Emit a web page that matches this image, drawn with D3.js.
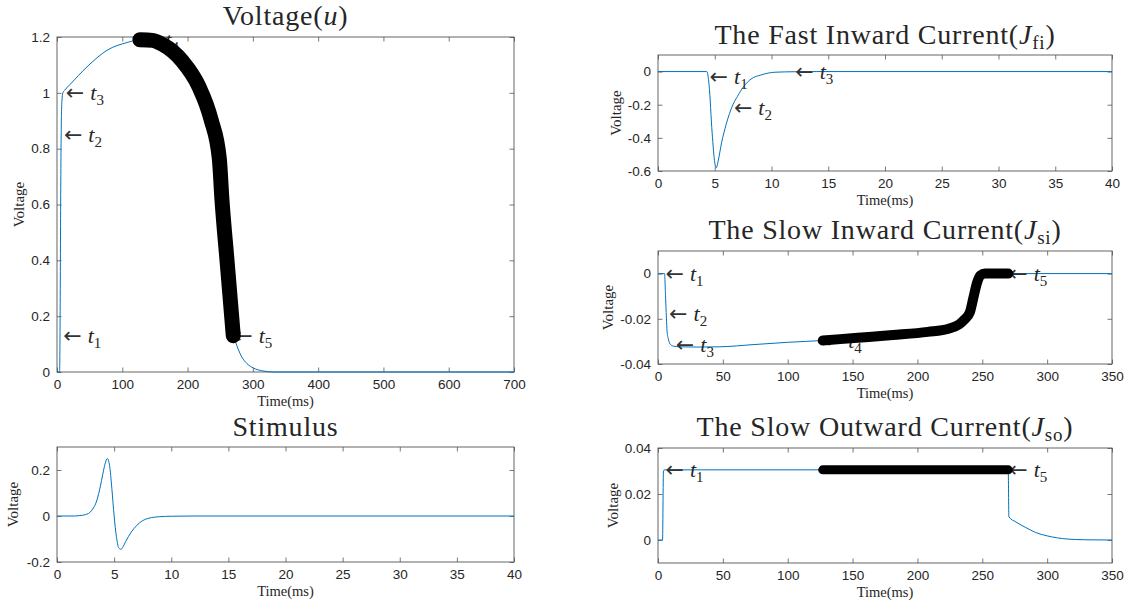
<!DOCTYPE html>
<html>
<head>
<meta charset="utf-8">
<script src="https://cdn.jsdelivr.net/npm/d3@7"></script>
<style>
  body { margin: 0; background: #fff; }
  svg text { fill: #262626; }
</style>
</head>
<body>
<div id="chart"></div>
<script>
// ---- data ----
// membrane voltage u (ms, value)
var uTime = [0, 4, 4.5, 5, 5.5, 6, 6.5, 7, 8, 9, 12, 20, 46, 77, 107, 127, 146, 162, 191.5, 217, 236, 248.6, 252.7, 260.4, 270, 273, 283, 291, 301, 315, 332, 700];
var uVolt = [0, 0, 0.1, 0.3, 0.55, 0.75, 0.87, 0.94, 0.985, 1.0, 1.01, 1.03, 1.093, 1.153, 1.18, 1.19, 1.188, 1.173, 1.115, 1.024, 0.904, 0.765, 0.616, 0.40, 0.13, 0.11, 0.054, 0.03, 0.014, 0.004, 0, 0];

// stimulus
var stimTime = [0, 1.5, 2, 2.5, 3, 3.5, 3.8, 4, 4.2, 4.4, 4.6, 4.8, 5.0, 5.2, 5.4, 5.6, 5.8, 6.0, 6.5, 7, 7.5, 8, 9, 10, 12, 40];
var stimVal = [0, 0, 0.002, 0.006, 0.022, 0.07, 0.13, 0.18, 0.225, 0.25, 0.22, 0.12, 0.0, -0.09, -0.138, -0.145, -0.132, -0.112, -0.07, -0.04, -0.02, -0.01, -0.003, -0.001, 0, 0];

// fast inward current J_fi
var fiTime = [0, 4.3, 4.5, 4.77, 5.0, 5.14, 5.3, 5.6, 6.0, 6.3, 6.6, 7.0, 7.55, 8.2, 9.1, 10.3, 12, 14, 40];
var fiVal = [0, 0, -0.08, -0.37, -0.55, -0.58, -0.54, -0.43, -0.32, -0.253, -0.2, -0.15, -0.09, -0.045, -0.02, -0.004, -0.001, 0, 0];

// slow inward current J_si
var siTime = [0, 5, 5.9, 7, 8, 9.7, 12, 17, 30, 47, 74, 100, 127, 154, 181, 208, 224, 232, 236, 240.5, 243, 246, 248.6, 252, 270, 350];
var siVal = [0, 0, -0.0112, -0.0256, -0.029, -0.0314, -0.0321, -0.0324, -0.0325, -0.0324, -0.0314, -0.0304, -0.0296, -0.0284, -0.0272, -0.0258, -0.0244, -0.0225, -0.0205, -0.017, -0.011, -0.004, -0.0008, 0, 0, 0];

// slow outward current J_so
var soTime = [0, 3.5, 4.2, 5, 127, 270, 270.5, 276, 283.6, 291, 300, 316, 329, 350];
var soVal = [0, 0, 0.03, 0.0305, 0.0305, 0.0305, 0.0101, 0.0078, 0.0054, 0.0033, 0.0018, 0.0004, 0.0001, 0];

// highlighted interval (t4 .. t5)
var markStart = 127, markEnd = 270;

// tick values
var uXTicks = [0, 100, 200, 300, 400, 500, 600, 700];
var uYTicks = [0, 0.2, 0.4, 0.6, 0.8, 1, 1.2];
var shortXTicks = [0, 5, 10, 15, 20, 25, 30, 35, 40];
var longXTicks = [0, 50, 100, 150, 200, 250, 300, 350];
var stimYTicks = [-0.2, 0, 0.2];
var fiYTicks = [-0.6, -0.4, -0.2, 0];
var siYTicks = [-0.04, -0.02, 0];
var soYTicks = [0, 0.02, 0.04];

// annotations: [subscript, time, value]
var uNotes = [[1, 8, 0.13], [2, 9, 0.85], [3, 12, 1.0], [4, 127, 1.19], [5, 270, 0.13]];
var fiNotes = [[1, 4.46, -0.03], [2, 6.6, -0.22], [3, 12, 0]];
var siNotes = [[1, 5, 0], [2, 7.8, -0.0177], [3, 13, -0.0314], [4, 127, -0.0298], [5, 270, 0]];
var soNotes = [[1, 5, 0.0305], [5, 270, 0.0305]];

var panels = [
  {title: [{t: "Voltage("}, {t: "u", it: true}, {t: ")"}], box: [57, 37, 514, 372], titleY: 25, yLabX: 19,
   xDom: [0, 700], xTicks: uXTicks, yDom: [0, 1.2], yTicks: uYTicks, time: uTime, vals: uVolt, notes: uNotes, mark: 15},
  {title: [{t: "Stimulus"}], box: [57, 447, 514, 562], titleY: 436, yLabX: 13,
   xDom: [0, 40], xTicks: shortXTicks, yDom: [-0.2, 0.3], yTicks: stimYTicks, time: stimTime, vals: stimVal, notes: [], mark: 0},
  {title: [{t: "The Fast Inward Current("}, {t: "J", it: true}, {t: "fi", sub: true}, {t: ")"}], box: [658, 55, 1112, 171], titleY: 44, yLabX: 616,
   xDom: [0, 40], xTicks: shortXTicks, yDom: [-0.6, 0.1], yTicks: fiYTicks, time: fiTime, vals: fiVal, notes: fiNotes, mark: 0},
  {title: [{t: "The Slow Inward Current("}, {t: "J", it: true}, {t: "si", sub: true}, {t: ")"}], box: [658, 251, 1112, 364], titleY: 239, yLabX: 608,
   xDom: [0, 350], xTicks: longXTicks, yDom: [-0.04, 0.01], yTicks: siYTicks, time: siTime, vals: siVal, notes: siNotes, mark: 10},
  {title: [{t: "The Slow Outward Current("}, {t: "J", it: true}, {t: "so", sub: true}, {t: ")"}], box: [658, 448, 1112, 563], titleY: 436, yLabX: 613,
   xDom: [0, 350], xTicks: longXTicks, yDom: [-0.01, 0.04], yTicks: soYTicks, time: soTime, vals: soVal, notes: soNotes, mark: 9}
];

var svg = d3.select("#chart").append("svg")
  .attr("width", 1131)
  .attr("height", 609);

var serif = "'Liberation Serif', 'Times New Roman', serif";
var sans = "'Liberation Sans', Arial, sans-serif";
var lineColor = "#0072BD";
var axisColor = "#555";

panels.forEach(function(p) {
  var x0 = p.box[0], y0 = p.box[1], w = p.box[2] - p.box[0], h = p.box[3] - p.box[1];
  var x = d3.scaleLinear().domain(p.xDom).range([0, w]);
  var y = d3.scaleLinear().domain(p.yDom).range([h, 0]);
  var tl = 4.5;

  var g = svg.append("g").attr("transform", "translate(" + x0 + "," + y0 + ")");

  // axes, ticks pointing inward on all four sides
  var fmt = function(d) { return String(d); };
  var bottom = g.append("g").attr("transform", "translate(0," + h + ")")
    .call(d3.axisBottom(x).tickValues(p.xTicks).tickSize(-tl).tickSizeOuter(0).tickPadding(7).tickFormat(fmt));
  var top = g.append("g")
    .call(d3.axisTop(x).tickValues(p.xTicks).tickSize(-tl).tickSizeOuter(0).tickFormat(""));
  var left = g.append("g")
    .call(d3.axisLeft(y).tickValues(p.yTicks).tickSize(-tl).tickSizeOuter(0).tickPadding(7).tickFormat(fmt));
  var right = g.append("g").attr("transform", "translate(" + w + ",0)")
    .call(d3.axisRight(y).tickValues(p.yTicks).tickSize(-tl).tickSizeOuter(0).tickFormat(""));

  [bottom, top, left, right].forEach(function(a) {
    a.select(".domain").remove();
    a.selectAll(".tick line").attr("stroke", axisColor).attr("stroke-width", 0.8);
    a.selectAll(".tick text").attr("font-family", sans).attr("font-size", 13.5).attr("fill", "#262626");
  });

  g.append("rect")
    .attr("width", w).attr("height", h)
    .attr("fill", "none").attr("stroke", axisColor).attr("stroke-width", 0.9);

  // series
  var pts = p.time.map(function(t, i) { return [t, p.vals[i]]; });
  var line = d3.line()
    .x(function(d) { return x(d[0]); })
    .y(function(d) { return y(d[1]); })
    .curve(d3.curveMonotoneX);

  g.append("path")
    .datum(pts)
    .attr("fill", "none")
    .attr("stroke", lineColor)
    .attr("stroke-width", 1)
    .attr("d", line);

  // annotations (drawn under the highlighted markers)
  p.notes.forEach(function(n) {
    var tx = g.append("text")
      .attr("x", x(n[1]) + 1)
      .attr("y", y(n[2]) + 7)
      .attr("font-size", 22)
      .attr("fill", "#222");
    tx.append("tspan").attr("font-family", "'DejaVu Sans', sans-serif").attr("font-size", 22).attr("fill", "#333").text("\u2190");
    tx.append("tspan").attr("font-family", serif).attr("font-style", "italic").attr("dx", 6).text("t");
    tx.append("tspan").attr("font-family", serif).attr("font-size", 15).attr("dy", 5).text(n[0]);
  });

  // highlighted interval drawn as a fat stroke of markers
  if (p.mark > 0) {
    var seg = pts.filter(function(d) { return d[0] >= markStart && d[0] <= markEnd; });
    g.append("path")
      .datum(seg)
      .attr("fill", "none")
      .attr("stroke", "#000")
      .attr("stroke-width", p.mark)
      .attr("stroke-linecap", "round")
      .attr("stroke-linejoin", "round")
      .attr("d", line);
  }

  // title
  var title = svg.append("text")
    .attr("x", x0 + w / 2)
    .attr("y", p.titleY)
    .attr("text-anchor", "middle")
    .attr("font-family", serif)
    .attr("font-size", 28)
    .attr("letter-spacing", 0.8)
    .attr("fill", "#111");
  p.title.forEach(function(s) {
    var ts = title.append("tspan").text(s.t);
    if (s.it) ts.attr("font-style", "italic");
    if (s.sub) ts.attr("font-size", 19).attr("dy", 5);
    else if (ts.node().previousSibling && d3.select(ts.node().previousSibling).attr("dy")) ts.attr("dy", -5);
  });

  // axis labels
  svg.append("text")
    .attr("x", x0 + w / 2)
    .attr("y", y0 + h + 34)
    .attr("text-anchor", "middle")
    .attr("font-family", serif)
    .attr("font-size", 14.5)
    .text("Time(ms)");

  svg.append("text")
    .attr("transform", "translate(" + (p.yLabX + 5) + "," + (y0 + h / 2) + ") rotate(-90)")
    .attr("text-anchor", "middle")
    .attr("font-family", serif)
    .attr("font-size", 15)
    .text("Voltage");
});
</script>
</body>
</html>
